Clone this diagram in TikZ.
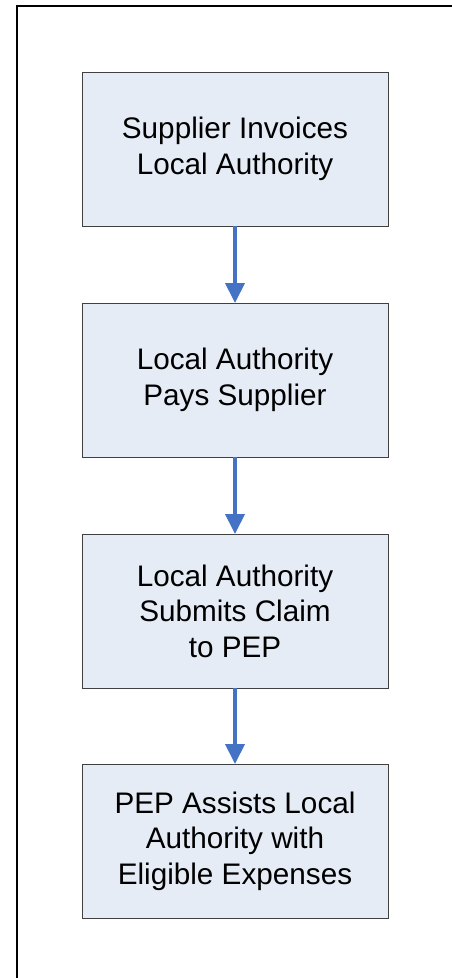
\documentclass[tikz,border=0pt]{standalone}
\usepackage{fontspec}
\setmainfont{Liberation Sans}
\usetikzlibrary{positioning,arrows.meta}
\definecolor{stepfill}{HTML}{E6ECF6}
\definecolor{stepline}{HTML}{404040}
\definecolor{flowblue}{HTML}{4472C4}
\begin{document}
\begin{tikzpicture}[x=1pt,y=-1pt,
    stepbox/.style={draw=stepline,line width=0.9pt,fill=stepfill,
      minimum width=306pt,minimum height=154pt,inner sep=0pt,outer sep=0pt,
      align=center,font=\fontsize{29.7}{35.5}\selectfont},
    flow/.style={draw=flowblue,line width=4pt,
      -{Triangle[length=20pt,width=19pt]}}]
    \useasboundingbox (0,0) rectangle (451,978);
    %FRAME
    \draw[line width=2pt] (17,990) -- (17,6) -- (470,6);
    %STEPS
    \node[stepbox] (invoice) at (235,149) {Supplier Invoices\\Local Authority};
    \node[stepbox,below=77pt of invoice] (pay) {Local Authority\\Pays Supplier};
    \node[stepbox,below=77pt of pay] (claim) {Local Authority\\Submits Claim\\to PEP};
    \node[stepbox,below=76pt of claim] (assist) {PEP Assists Local\\Authority with\\Eligible Expenses};
    %ARROWS
    \draw[flow] (invoice) -- (pay);
    \draw[flow] (pay) -- (claim);
    \draw[flow] (claim) -- (assist);
\end{tikzpicture}
\end{document}
